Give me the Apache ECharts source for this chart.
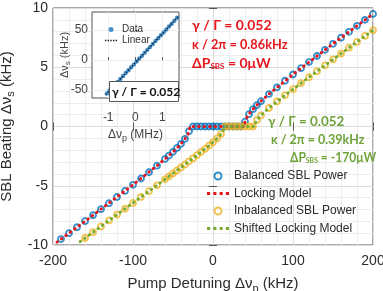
<!DOCTYPE html>
<html>
<head>
<meta charset="utf-8">
<script src="https://cdn.jsdelivr.net/npm/echarts@6/dist/echarts.min.js"></script>
<style>
html, body { margin: 0; padding: 0; background: #fff; }
#chart { width: 383px; height: 291px; }
</style>
</head>
<body>
<div id="chart"></div>
<script>
// mesures, puissance SBL équilibrée (kHz)
const balX = [-190,-180,-170,-160,-150,-140,-130,-120,-110,-100,-90,-80,-70,-60,
  -55,-50,-45,-40,-35,-30,-25,-20,-15,-10,-5,0,5,10,15,20,25,30,35,40,45,50,55,
  60,70,80,90,100,110,120,130,140,150,160,170,180,190,200];
const balY = [-9.50,-9.00,-8.50,-7.99,-7.49,-6.98,-6.47,-5.95,-5.44,-4.92,-4.39,-3.86,-3.31,-2.74,
  -2.45,-2.14,-1.81,-1.46,-1.04,-0.41,0,0,0,0,0,0,0,0,0,0,0,0,0,0.41,1.04,1.46,1.81,
  2.14,2.74,3.31,3.86,4.39,4.92,5.44,5.95,6.47,6.98,7.49,7.99,8.50,9.00,9.50];

// mesures, puissance SBL déséquilibrée
const inbX = [-160,-150,-140,-130,-120,-110,-100,-90,-80,-70,-60,
  -55,-50,-45,-40,-35,-30,-25,-20,-15,-10,-5,0,5,10,15,20,25,30,35,40,45,50,55,
  60,70,80,90,100,110,120,130,140,150,160,170,180,190,200];
const inbY = [-9.41,-8.92,-8.43,-7.93,-7.44,-6.94,-6.45,-5.95,-5.46,-4.96,-4.46,
  -4.21,-3.96,-3.71,-3.45,-3.20,-2.94,-2.69,-2.42,-2.16,-1.89,-1.61,-1.32,-1.01,-0.64,0,0,0,0,0,0,0,0,0.54,
  0.94,1.56,2.11,2.63,3.15,3.66,4.16,4.66,5.16,5.66,6.15,6.65,7.14,7.64,8.13];

// modèle de verrouillage
const lockX = [-195,-150,-100,-70,-60,-50,-45,-40,-36,-33,-31,-29.5,-29,39,39.5,41,43,46,50,55,60,70,100,150,200];
const lockY = [-9.76,-7.49,-4.92,-3.31,-2.74,-2.14,-1.81,-1.46,-1.13,-0.84,-0.59,-0.29,0,0,0.29,0.59,0.84,1.13,1.46,1.81,2.14,2.74,4.39,6.98,9.50];

// modèle décalé
const shiftX = [-166,-130,-100,-60,-40,-20,-10,-5,0,5,8,11,13,14,52,53,55,58,61,66,73,90,120,160,200];
const shiftY = [-9.71,-7.93,-6.45,-4.46,-3.45,-2.42,-1.89,-1.61,-1.32,-1.01,-0.80,-0.54,-0.31,0,0,0.31,0.54,0.80,1.01,1.32,1.72,2.63,4.16,6.15,8.13];

// encart (MHz / kHz)
const insetX = [-1.05,-0.95,-0.85,-0.75,-0.65,-0.55,-0.45,-0.35,-0.25,-0.15,-0.05,0.05,0.15,0.25,
  0.35,0.45,0.55,0.65,0.75,0.85,0.95,1.05,1.15,1.25,1.35,1.45,1.55];
const insetY = [-55.5,-50.7,-45.8,-41.0,-36.2,-31.3,-26.5,-21.6,-16.8,-12.0,-7.1,-2.3,2.6,7.4,
  12.2,17.1,21.9,26.8,31.6,36.4,41.3,46.1,51.0,55.8,60.6,65.5,70.3];
const fitX = [-1.1, 1.6];
const fitY = [-57.9, 72.7];

const xTicks = [-200, -100, 0, 100, 200];
const yTicks = [-10, -5, 0, 5, 10];
const insetXTicks = [-1, 0, 1];
const insetYTicks = [-50, 0, 50];

function pairs(xs, ys) {
  return xs.map((x, i) => [x, ys[i]]);
}

const font = '"Liberation Sans", Arial, sans-serif';
const boldFont = 'Lato, "Noto Sans", sans-serif';
const red = '#e8161e';
const green = '#6fa33a';
const axisCol = '#555';
const txtCol = '#2b2b2b';
// icône pointillée pour la légende
const dotsIcon = 'path://M0,0h3v3h-3z M6,0h3v3h-3z M12,0h3v3h-3z M18,0h3v3h-3z';

// texte d'annotation en gras (sx = compression horizontale)
function note(x, y, text, color, size, sx) {
  return {
    type: 'text', x: x, y: y, z: 20, scaleX: sx || 1,
    style: {
      text: text, fill: color, fontSize: size, fontWeight: 'bold', fontFamily: boldFont,
      verticalAlign: 'middle',
      rich: { s: { fontSize: 8, fontWeight: 'bold', fontFamily: boldFont, fill: color, padding: [6, 0, 0, 0] } }
    }
  };
}

const chart = echarts.init(document.getElementById('chart'));

chart.setOption({
  animation: false,
  backgroundColor: '#fff',
  textStyle: { fontFamily: font },
  grid: [
    { left: 53, top: 8, right: 10, bottom: 46, show: true, borderColor: axisCol, borderWidth: 1, z: 0, outerBoundsMode: 'none' },
    { left: 92, top: 12, width: 87, height: 86, show: true, backgroundColor: '#fff', borderColor: axisCol, borderWidth: 1, z: 5, outerBoundsMode: 'none' }
  ],
  xAxis: [
    {
      gridIndex: 0, type: 'value', min: -200, max: 200, interval: 100, position: 'bottom',
      axisLine: { show: false },
      axisTick: { inside: true, length: 4, lineStyle: { color: axisCol } },
      axisLabel: { fontSize: 14, color: txtCol, margin: 9, customValues: xTicks },
      splitLine: { lineStyle: { color: '#dcdcdc' } },
      minorTick: { show: false, splitNumber: 5 },
      minorSplitLine: { show: true, lineStyle: { color: '#ededed' } },
      name: 'Pump Detuning Δν{s|p} (kHz)', nameLocation: 'middle', nameGap: 29, nameMoveOverlap: false,
      nameTextStyle: { fontSize: 15, color: txtCol, rich: { s: { fontSize: 11, padding: [9, 0, 0, 0], color: txtCol } } }
    },
    {
      gridIndex: 0, type: 'value', min: -200, max: 200, interval: 100, position: 'top',
      axisLine: { show: false },
      axisTick: { inside: true, length: 4, lineStyle: { color: axisCol } },
      axisLabel: { show: false }, splitLine: { show: false }
    },
    {
      gridIndex: 1, type: 'value', min: -1.6, max: 1.62, position: 'bottom', z: 6,
      axisLine: { show: false },
      axisTick: { inside: true, length: 3, customValues: insetXTicks, lineStyle: { color: axisCol } },
      axisLabel: { fontSize: 12, color: '#444', margin: 14, customValues: insetXTicks },
      splitLine: { show: true, lineStyle: { color: '#eeeeee' } },
      name: 'Δν{s|p} (MHz)', nameLocation: 'middle', nameGap: 29,
      nameTextStyle: { fontSize: 12, color: '#444', rich: { s: { fontSize: 9, padding: [7, 0, 0, 0], color: '#444' } } }
    }
  ],
  yAxis: [
    {
      gridIndex: 0, type: 'value', min: -10, max: 10, interval: 5, position: 'left',
      axisLine: { show: false },
      axisTick: { inside: true, length: 4, lineStyle: { color: axisCol } },
      axisLabel: { fontSize: 14, color: txtCol, margin: 5, customValues: yTicks },
      splitLine: { lineStyle: { color: '#dcdcdc' } },
      minorTick: { show: false, splitNumber: 5 },
      minorSplitLine: { show: true, lineStyle: { color: '#ededed' } },
      name: 'SBL Beating Δν{s|s} (kHz)', nameLocation: 'middle', nameGap: 34,
      nameTextStyle: { fontSize: 15, color: txtCol, rich: { s: { fontSize: 11, padding: [9, 0, 0, 0], color: txtCol } } }
    },
    {
      gridIndex: 0, type: 'value', min: -10, max: 10, interval: 5, position: 'right',
      axisLine: { show: false },
      axisTick: { inside: true, length: 4, lineStyle: { color: axisCol } },
      axisLabel: { show: false }, splitLine: { show: false }
    },
    {
      gridIndex: 1, type: 'value', min: -63, max: 80, position: 'left', z: 6,
      axisLine: { show: false },
      axisTick: { inside: true, length: 3, customValues: insetYTicks, lineStyle: { color: axisCol } },
      axisLabel: { fontSize: 12, color: '#444', margin: 4, customValues: insetYTicks },
      splitLine: { show: true, lineStyle: { color: '#eeeeee' } },
      name: 'Δν{s|s} (kHz)', nameLocation: 'middle', nameGap: 20, nameMoveOverlap: false,
      nameTextStyle: { fontSize: 11, color: '#444', rich: { s: { fontSize: 8, padding: [7, 0, 0, 0], color: '#444' } } }
    }
  ],
  legend: [
    {
      data: [
        { name: 'Balanced SBL Power' },
        { name: 'Locking Model', icon: dotsIcon },
        { name: 'Inbalanced SBL Power' },
        { name: 'Shifted Locking Model', icon: dotsIcon }
      ],
      orient: 'vertical', left: 202, top: 164, itemWidth: 22, itemHeight: 7, itemGap: 3.5,
      textStyle: { fontSize: 12, color: txtCol, lineHeight: 14 }, z: 10
    },
    {
      data: [{ name: 'Data', icon: 'circle' }, { name: 'Linear', icon: 'path://M0,0h1.5v1.5h-1.5z M3,0h1.5v1.5h-1.5z M6,0h1.5v1.5h-1.5z M9,0h1.5v1.5h-1.5z M12,0h1.5v1.5h-1.5z' }],
      orient: 'vertical', left: 100, top: 19, itemWidth: 12, itemHeight: 5, itemGap: 0,
      textStyle: { fontSize: 10, color: '#333', lineHeight: 11 }, z: 10
    }
  ],
  series: [
    {
      name: 'Balanced SBL Power', type: 'scatter', xAxisIndex: 0, yAxisIndex: 0,
      data: pairs(balX, balY), symbol: 'circle', symbolSize: 6,
      itemStyle: { color: 'rgba(0,0,0,0)', borderColor: '#0072BD', borderWidth: 1.8 }
    },
    {
      name: 'Locking Model', type: 'line', xAxisIndex: 0, yAxisIndex: 0,
      data: pairs(lockX, lockY), symbol: 'none', itemStyle: { color: red },
      lineStyle: { color: red, width: 3, type: [0.5, 5], cap: 'round' }
    },
    {
      name: 'Inbalanced SBL Power', type: 'scatter', xAxisIndex: 0, yAxisIndex: 0,
      data: pairs(inbX, inbY), symbol: 'circle', symbolSize: 6,
      itemStyle: { color: 'rgba(0,0,0,0)', borderColor: '#EDB120', borderWidth: 1.8 }
    },
    {
      name: 'Shifted Locking Model', type: 'line', xAxisIndex: 0, yAxisIndex: 0,
      data: pairs(shiftX, shiftY), symbol: 'none', itemStyle: { color: '#77AC30' },
      lineStyle: { color: '#77AC30', width: 3, type: [0.5, 5], cap: 'round' }
    },
    {
      name: 'Data', type: 'scatter', xAxisIndex: 2, yAxisIndex: 2, z: 7,
      data: pairs(insetX, insetY), symbol: 'circle', symbolSize: 4.5,
      itemStyle: { color: '#1a78c2' }
    },
    {
      name: 'Linear', type: 'line', xAxisIndex: 2, yAxisIndex: 2, z: 8,
      data: pairs(fitX, fitY), symbol: 'none', itemStyle: { color: '#111' },
      lineStyle: { color: '#111', width: 1.2, type: [1.5, 1.5] }
    }
  ],
  graphic: [
    // texte rouge
    note(192, 25, 'γ / Γ = 0.052', red, 14),
    note(192, 44, 'κ / 2π = 0.86kHz', red, 14, 0.91),
    note(192, 63, 'ΔP{s|SBS} = 0μW', red, 14),
    // texte vert
    note(268, 121, 'γ / Γ = 0.052', green, 14, 0.96),
    note(271, 139, 'κ / 2π = 0.39kHz', green, 14, 0.89),
    note(290, 157, 'ΔP{s|SBS} = -170μW', green, 14, 0.86),
    // encadré de l'encart
    { type: 'rect', z: 15, shape: { x: 109.5, y: 81.5, width: 69, height: 20 }, style: { fill: '#fff', stroke: axisCol, lineWidth: 1 } },
    note(112, 92, 'γ / Γ = 0.052', '#111', 12)
  ]
});
</script>
</body>
</html>
